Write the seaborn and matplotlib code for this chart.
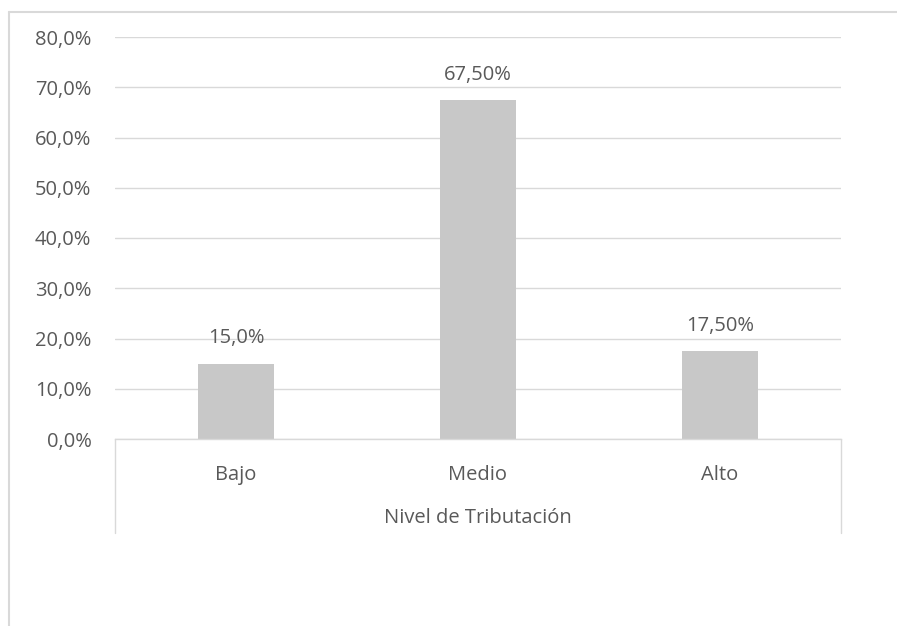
import matplotlib
matplotlib.use("Agg")
import matplotlib.pyplot as plt
import seaborn as sns
import pandas as pd
from matplotlib.lines import Line2D

categories = ["Bajo", "Medio", "Alto"]
values = [15.0, 67.5, 17.5]
value_labels = ["15,0%", "67,50%", "17,50%"]
y_ticks = [0, 10, 20, 30, 40, 50, 60, 70, 80]
y_tick_labels = ["0,0%", "10,0%", "20,0%", "30,0%", "40,0%", "50,0%", "60,0%", "70,0%", "80,0%"]
x_title = "Nivel de Tributación"

sns.set_style("white")
plt.rcParams['font.family'] = ['Open Sans', 'DejaVu Sans']

FS = 14.5
TXT = "#595959"
W, H = 897, 626
fig = plt.figure(figsize=(W / 100, H / 100), dpi=100)
left, right, top, bottom = 115, 841, 37, 439
ax = fig.add_axes([left / W, 1 - bottom / H, (right - left) / W, (bottom - top) / H])

df = pd.DataFrame({"cat": categories, "val": values})
sns.barplot(data=df, x="cat", y="val", color="#C8C8C8", width=0.315, ax=ax,
            saturation=1, edgecolor="none")

ax.set_ylim(0, 80)
ax.set_xlim(-0.5, 2.5)
ax.set_yticks(y_ticks)
ax.set_yticklabels(y_tick_labels, fontsize=FS, color=TXT)
ax.set_xticks(range(len(categories)))
ax.set_xticklabels(categories, fontsize=FS, color=TXT)
ax.tick_params(axis="both", length=0)
ax.tick_params(axis="y", pad=17)
ax.tick_params(axis="x", pad=19)
ax.set_xlabel("")
ax.set_ylabel("")
ax.grid(axis="y", color="#D9D9D9", linewidth=1)
ax.set_axisbelow(True)
for s in ["top", "right", "left"]:
    ax.spines[s].set_visible(False)
ax.spines["bottom"].set_color("#D9D9D9")
ax.spines["bottom"].set_linewidth(1)

for p, lab in zip(ax.patches, value_labels):
    ax.annotate(lab, (p.get_x() + p.get_width() / 2, p.get_height()),
                xytext=(0, 11), textcoords="offset points", ha="center", va="bottom",
                fontsize=FS, color=TXT)

# category axis separators
sep_bottom = 533
for xp in [left, right]:
    fig.add_artist(Line2D([xp / W, xp / W], [1 - bottom / H, 1 - sep_bottom / H],
                          color="#D9D9D9", linewidth=1))

fig.text((left + right) / 2 / W, 1 - 523 / H, x_title, ha="center", va="baseline",
         fontsize=FS, color=TXT)

# outer chart frame (partially visible)
fig.add_artist(Line2D([9 / W, 9 / W], [0, 1 - 12 / H], color="#D9D9D9", linewidth=1.5))
fig.add_artist(Line2D([9 / W, 1], [1 - 12 / H, 1 - 12 / H], color="#D9D9D9", linewidth=1.5))

fig.savefig("out.png", dpi=100, facecolor="white")
